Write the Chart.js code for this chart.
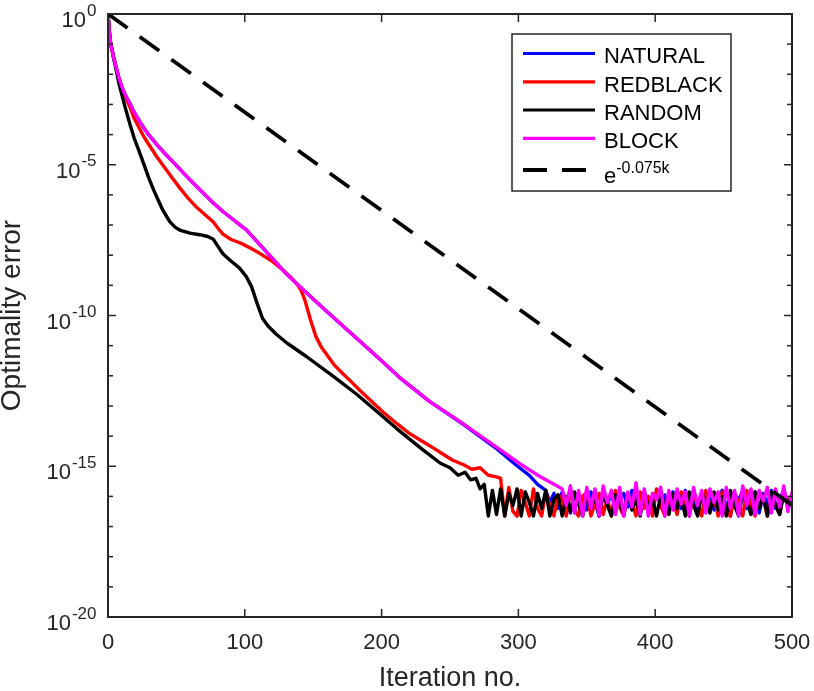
<!DOCTYPE html>
<html>
<head>
<meta charset="utf-8">
<title>Optimality error</title>
<script src="https://cdn.jsdelivr.net/npm/chart.js@4.4.1/dist/chart.umd.min.js"></script>
<style>
  html, body { margin: 0; padding: 0; background: #fff; }
  #wrap { width: 814px; height: 691px; }
</style>
</head>
<body>
<div id="wrap"><canvas id="myChart" width="814" height="691"></canvas></div>
<script>

// NATURAL (blue): smooth descent, then the round-off floor
const naturalIters = [0, 1, 2, 3, 4, 5, 6.5, 8, 10, 12, 14, 16, 19, 23, 26.5, 30, 36, 41, 47, 53, 59, 65, 71, 77, 84, 91, 98, 101, 110, 120, 130,
  138, 150, 162, 175, 200, 213, 235, 260, 285, 298, 308, 314];
const naturalExp = [0, -0.6, -1.0, -1.2, -1.42, -1.6, -1.86, -2.12, -2.4, -2.62, -2.8, -2.96, -3.25, -3.55, -3.8, -4.02, -4.35, -4.6, -4.88, -5.17, -5.45, -5.73, -6.0, -6.27, -6.55, -6.8, -7.05, -7.15, -7.6, -8.1, -8.6,
  -8.95, -9.45, -9.95, -10.48, -11.5, -12.05, -12.85, -13.62, -14.45, -14.95, -15.3, -15.6];
const naturalFloorStart = 320;
const naturalFloor = [
  -15.80, -16.20, -15.90, -16.40, -15.85, -16.10, -16.55, -15.90, -16.25, -16.00,
  -16.45, -15.85, -16.15, -16.65, -15.95, -16.30, -15.85, -16.50, -16.05, -15.90,
  -16.35, -15.80, -16.20, -16.60, -15.90, -16.10, -16.45, -15.85, -16.25, -15.95,
  -16.55, -15.85, -16.15, -16.40, -15.80, -16.30, -16.00, -16.60, -15.90, -16.20,
  -15.85, -16.45, -16.05, -15.80, -16.35, -16.65, -15.90, -16.15, -15.80, -16.40,
  -16.00, -15.85, -16.55, -15.90, -16.25, -15.80, -16.40, -16.05, -15.85, -16.30,
  -15.95];

// REDBLACK (red)
const redblackIters = [0, 1, 2, 3, 4, 5, 6.5, 8, 10, 12, 14, 16, 19, 23, 26, 29, 35, 41, 47, 53, 59, 65, 72, 77, 80, 84,
  90, 97, 104, 111, 120, 128, 134, 138, 141, 144, 148, 152, 156, 160, 165, 171, 177, 184, 191, 201, 211, 220, 230, 238, 245,
  252, 260, 266, 272, 278, 284, 287];
const redblackExp = [0, -0.6, -1.0, -1.2, -1.42, -1.6, -1.87, -2.14, -2.44, -2.68, -2.88, -3.08, -3.45, -3.8, -4.05, -4.27, -4.69, -5.07, -5.44, -5.8, -6.13, -6.42, -6.7, -6.9, -7.08, -7.3,
  -7.48, -7.6, -7.76, -7.94, -8.2, -8.5, -8.75, -8.95, -9.15, -9.5, -10.14, -10.7, -11.05, -11.3, -11.62, -11.9, -12.16, -12.48, -12.78, -13.2, -13.58, -13.9, -14.18, -14.4, -14.6,
  -14.8, -14.95, -15.1, -15.05, -15.3, -15.35, -15.4];
const redblackFloorStart = 290;
const redblackFloor = [
  -16.65, -15.70, -16.50, -16.65, -15.80, -16.20, -16.65, -15.75, -16.40, -16.65,
  -15.85, -16.30, -16.65, -15.95, -16.10, -16.65, -15.80, -16.45, -16.65, -16.00,
  -15.85, -16.65, -16.25, -15.90, -16.60, -16.05, -16.65, -15.80, -16.35, -16.65,
  -15.95, -16.20, -16.65, -15.85, -16.40, -16.00, -16.65, -15.75, -16.30, -16.65,
  -15.90, -16.15, -16.60, -15.85, -16.45, -16.65, -15.95, -16.25, -16.65, -15.80,
  -16.35, -16.00, -16.65, -15.85, -16.50, -16.65, -15.90, -16.20, -16.65, -15.80,
  -16.40, -16.65, -15.85, -16.10, -16.65, -15.90, -16.30, -16.60, -15.85, -16.15,
  -16.05];

// RANDOM (black)
const randomIters = [0, 1, 2, 3, 4, 5, 6.5, 8, 10, 12, 14, 16, 19, 23, 26.5, 30, 33.5, 37, 40, 42, 45, 49, 53, 60, 67, 73, 77, 80,
  84, 89, 96, 101, 105, 109, 113, 117, 123, 131, 145, 165, 182, 197, 211, 230, 243, 250, 256, 261, 265,
  269, 272, 275];
const randomExp = [0, -0.6, -1.0, -1.2, -1.43, -1.65, -1.97, -2.3, -2.66, -3.0, -3.33, -3.65, -4.1, -4.58, -5.02, -5.46, -5.85, -6.2, -6.5, -6.65, -6.88, -7.07, -7.18, -7.27, -7.32, -7.38, -7.47, -7.68,
  -7.95, -8.16, -8.42, -8.7, -9.05, -9.6, -10.1, -10.35, -10.62, -10.92, -11.36, -12.03, -12.62, -13.2, -13.75, -14.45, -14.9, -15.05, -15.3, -15.2, -15.45,
  -15.4, -15.75, -15.6];
const randomFloorStart = 278;
const randomFloor = [
  -16.65, -15.80, -16.60, -15.75, -16.65, -15.90, -16.30, -15.75, -16.65, -15.85,
  -16.20, -16.65, -15.90, -16.40, -15.80, -16.65, -16.10, -15.95, -16.65, -16.00,
  -16.50, -15.85, -16.25, -16.65, -15.90, -16.40, -16.00, -16.65, -15.85, -16.30,
  -16.65, -15.95, -16.20, -16.60, -15.90, -16.45, -16.05, -16.65, -15.85, -16.35,
  -16.10, -16.65, -15.95, -16.25, -16.60, -15.90, -16.40, -16.00, -16.65, -15.85,
  -16.30, -16.65, -15.90, -16.15, -16.55, -15.85, -16.45, -16.00, -16.65, -15.80,
  -16.30, -16.65, -15.90, -16.20, -16.60, -15.85, -16.40, -15.95, -16.65, -15.85,
  -16.30, -16.60, -15.90, -16.20, -16.00];

// BLOCK (magenta)
const blockIters = [0, 1, 2, 3, 4, 5, 6.5, 8, 10, 12, 14, 16, 19, 23, 26.5, 30, 36, 41, 47, 53, 59, 65, 71, 77, 84, 91, 98, 101, 110, 120, 130,
  138, 150, 162, 175, 200, 213, 235, 260, 285, 300, 308, 316, 322, 327];
const blockExp = [0, -0.6, -1.0, -1.2, -1.42, -1.6, -1.86, -2.12, -2.4, -2.62, -2.8, -2.96, -3.25, -3.55, -3.8, -4.02, -4.35, -4.6, -4.88, -5.17, -5.45, -5.73, -6.0, -6.27, -6.55, -6.8, -7.05, -7.15, -7.6, -8.1, -8.6,
  -8.95, -9.45, -9.95, -10.48, -11.5, -12.05, -12.85, -13.6, -14.4, -14.88, -15.12, -15.35, -15.5, -15.62];
const blockFloorStart = 332;
const blockFloor = [
  -15.75, -16.30, -15.65, -16.55, -15.80, -16.65, -15.70, -16.40, -15.75, -16.65,
  -15.65, -16.20, -15.80, -16.60, -15.70, -16.65, -15.85, -16.35, -15.55, -16.60,
  -15.75, -16.65, -15.90, -16.10, -15.70, -16.65, -15.80, -16.45, -15.75, -16.25,
  -15.85, -16.65, -15.70, -16.30, -15.80, -16.55, -15.75, -16.20, -15.85, -16.65,
  -15.70, -16.40, -15.80, -16.65, -15.65, -16.30, -15.75, -16.60, -15.80, -16.15,
  -15.70, -16.55, -15.75, -16.35, -15.65, -16.50, -15.85];

// reference rate e^(-0.075k): end points of the straight dashed line
const refIters = [0, 500];
const refExp = [0, -16.29];

const floorStep = 3; // iterations between floor samples
const seriesLabels = ['NATURAL', 'REDBLACK', 'RANDOM', 'BLOCK'];
const refLabelBase = 'e';
const refLabelExp = '-0.075k';
const xTicks = [0, 100, 200, 300, 400, 500];
const yTickExps = [0, -1, -2, -3, -4, -5, -6, -7, -8, -9, -10, -11, -12, -13, -14, -15, -16, -17, -18, -19, -20];
const yLabelExps = [0, -5, -10, -15, -20];

const FONT = '"Liberation Sans", Arial, Helvetica, sans-serif';
const AXIS_COLOR = '#262626';

function toPoints(iters, exps, floorStart, floorExps) {
  const pts = iters.map((k, i) => ({ x: k, y: Math.pow(10, exps[i]) }));
  (floorExps || []).forEach((e, i) => {
    pts.push({ x: floorStart + i * floorStep, y: Math.pow(10, e) });
  });
  return pts;
}

function curve(label, color, data, order) {
  return {
    label,
    data,
    borderColor: color,
    backgroundColor: color,
    borderWidth: 3.4,
    borderJoinStyle: 'round',
    pointRadius: 0,
    tension: 0,
    fill: false,
    order,
  };
}

function strokeLine(ctx, x1, y1, x2, y2) {
  ctx.beginPath();
  ctx.moveTo(x1, y1);
  ctx.lineTo(x2, y2);
  ctx.stroke();
}

// box, inward ticks, superscript y labels and the legend, MATLAB style
const matlabAxes = {
  id: 'matlabAxes',
  afterDatasetsDraw(chart) {
    const { ctx, chartArea: a, scales: { x, y } } = chart;
    ctx.save();
    ctx.strokeStyle = AXIS_COLOR;
    ctx.lineWidth = 1.5;
    xTicks.forEach(v => {
      const px = x.getPixelForValue(v);
      strokeLine(ctx, px, a.bottom, px, a.bottom - 8);
      strokeLine(ctx, px, a.top, px, a.top + 8);
    });
    yTickExps.forEach(e => {
      const py = y.getPixelForValue(Math.pow(10, e));
      const len = yLabelExps.includes(e) ? 8 : 5;
      strokeLine(ctx, a.left, py, a.left + len, py);
      strokeLine(ctx, a.right, py, a.right - len, py);
    });
    ctx.lineWidth = 2;
    ctx.strokeRect(a.left, a.top, a.right - a.left, a.bottom - a.top);

    // y tick labels as 10 with a raised exponent
    ctx.fillStyle = AXIS_COLOR;
    ctx.textAlign = 'right';
    ctx.textBaseline = 'alphabetic';
    yLabelExps.forEach(e => {
      const py = y.getPixelForValue(Math.pow(10, e));
      const expText = String(e);
      ctx.font = '17px ' + FONT;
      const ew = ctx.measureText(expText).width;
      ctx.fillText(expText, a.left - 11.5, py + 1.5);
      ctx.font = '22px ' + FONT;
      ctx.fillText('10', a.left - 12.5 - ew, py + 13);
    });

    // legend
    const box = { left: 512, top: 34, width: 219, height: 157 };
    ctx.fillStyle = '#ffffff';
    ctx.fillRect(box.left, box.top, box.width, box.height);
    ctx.lineWidth = 1.5;
    ctx.strokeStyle = AXIS_COLOR;
    ctx.strokeRect(box.left, box.top, box.width, box.height);
    const rows = [53.5, 81.8, 110, 138.3];
    const datasets = chart.data.datasets;
    ctx.textAlign = 'left';
    seriesLabels.forEach((name, i) => {
      const ds = datasets.find(d => d.label === name);
      ctx.strokeStyle = ds.borderColor;
      ctx.lineWidth = 3.2;
      strokeLine(ctx, 523, rows[i], 595, rows[i]);
      ctx.fillStyle = '#000000';
      ctx.font = '22px ' + FONT;
      ctx.fillText(name, 604, rows[i] + 9.8);
    });
    const ref = datasets[datasets.length - 1];
    ctx.strokeStyle = ref.borderColor;
    ctx.lineWidth = ref.borderWidth;
    ctx.setLineDash(ref.borderDash);
    strokeLine(ctx, 523, 170, 595, 170);
    ctx.setLineDash([]);
    ctx.fillStyle = '#000000';
    ctx.font = '22px ' + FONT;
    ctx.fillText(refLabelBase, 604, 183);
    const bw = ctx.measureText(refLabelBase).width;
    ctx.font = '16px ' + FONT;
    ctx.fillText(refLabelExp, 604 + bw, 173);
    ctx.restore();
  },
};

Chart.defaults.font.family = FONT;

const ctx = document.getElementById('myChart').getContext('2d');
// eslint-disable-next-line
const myChart = new Chart(ctx, {
  type: 'line',
  data: {
    datasets: [
      curve('NATURAL', '#0000ff', toPoints(naturalIters, naturalExp, naturalFloorStart, naturalFloor), 4),
      curve('REDBLACK', '#ff0000', toPoints(redblackIters, redblackExp, redblackFloorStart, redblackFloor), 3),
      curve('RANDOM', '#000000', toPoints(randomIters, randomExp, randomFloorStart, randomFloor), 2),
      curve('BLOCK', '#ff00ff', toPoints(blockIters, blockExp, blockFloorStart, blockFloor), 1),
      {
        label: refLabelBase + '^(' + refLabelExp + ')',
        data: toPoints(refIters, refExp),
        borderColor: '#000000',
        borderWidth: 3.8,
        borderDash: [24, 15],
        pointRadius: 0,
        tension: 0,
        fill: false,
        order: 0,
      },
    ],
  },
  options: {
    responsive: false,
    animation: false,
    devicePixelRatio: 1,
    layout: { padding: { top: 14, right: 22, bottom: 0, left: 0 } },
    plugins: {
      legend: { display: false },
      tooltip: { enabled: false },
    },
    scales: {
      x: {
        type: 'linear',
        min: 0,
        max: 500,
        afterBuildTicks: s => { s.ticks = xTicks.map(v => ({ value: v })); },
        ticks: { font: { size: 22 }, color: AXIS_COLOR, padding: 13, maxRotation: 0 },
        grid: { display: false, drawTicks: false },
        border: { display: false },
        title: {
          display: true,
          text: 'Iteration no.',
          color: AXIS_COLOR,
          font: { size: 27, lineHeight: 1 },
          padding: { top: 0, bottom: -1 },
        },
        afterFit: s => {
          s.height = 74;
          s.paddingLeft = 0;
          s.paddingRight = 0;
        },
      },
      y: {
        type: 'logarithmic',
        min: 1e-20,
        max: 1,
        afterBuildTicks: s => { s.ticks = yTickExps.map(e => ({ value: Math.pow(10, e) })); },
        ticks: { display: false },
        grid: { display: false, drawTicks: false },
        border: { display: false },
        title: {
          display: true,
          text: 'Optimality error',
          color: AXIS_COLOR,
          font: { size: 28, lineHeight: 1 },
          padding: { top: -2, bottom: 0 },
        },
        afterFit: s => {
          s.width = 108;
          s.paddingTop = 0;
          s.paddingBottom = 0;
        },
      },
    },
  },
  plugins: [matlabAxes],
});
</script>
</body>
</html>
